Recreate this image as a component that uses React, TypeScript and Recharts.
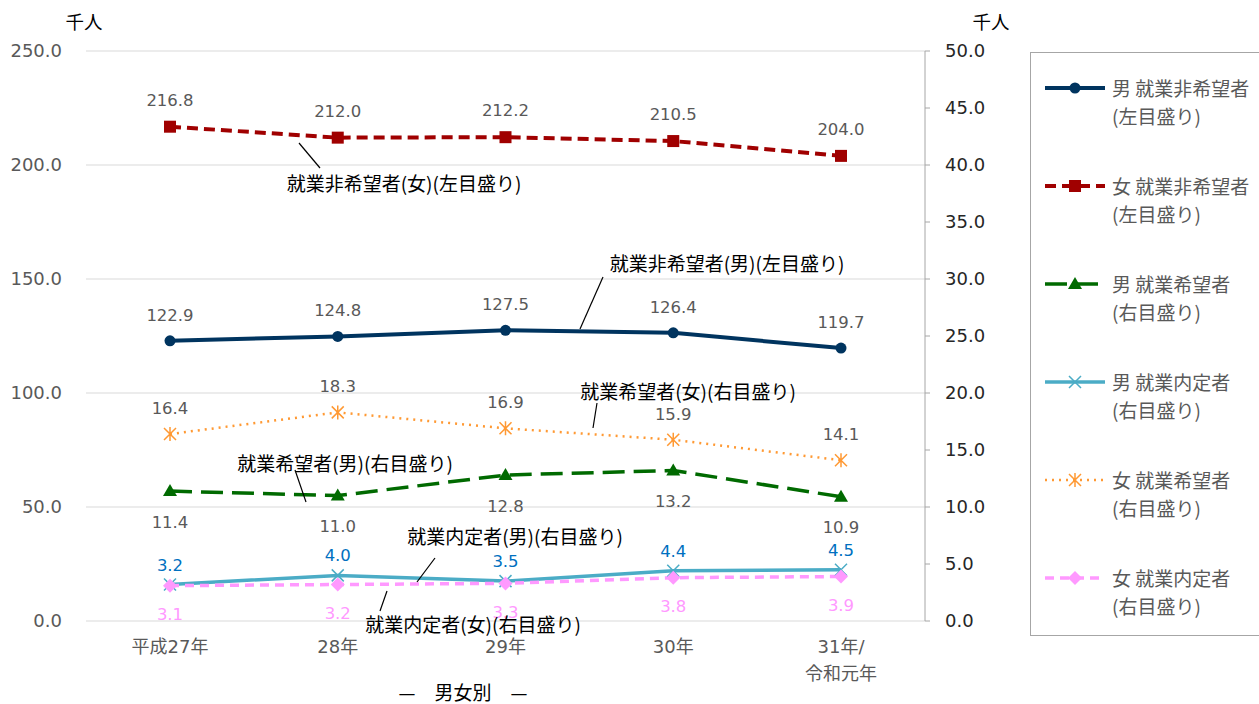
import { CartesianGrid, LabelList, Legend, Line, LineChart, XAxis, YAxis } from "recharts";

const YEARS = ["平成27年", "28年", "29年", "30年", "31年/\n令和元年"];
const MALE_NON_SEEKING = [122.9, 124.8, 127.5, 126.4, 119.7];
const FEMALE_NON_SEEKING = [216.8, 212.0, 212.2, 210.5, 204.0];
const MALE_SEEKING = [11.4, 11.0, 12.8, 13.2, 10.9];
const MALE_OFFER = [3.2, 4.0, 3.5, 4.4, 4.5];
const FEMALE_SEEKING = [16.4, 18.3, 16.9, 15.9, 14.1];
const FEMALE_OFFER = [3.1, 3.2, 3.3, 3.8, 3.9];
const LEFT_TICKS = [0, 50, 100, 150, 200, 250];
const RIGHT_TICKS = [0, 5, 10, 15, 20, 25, 30, 35, 40, 45, 50];

const FONT = "'Noto Sans CJK JP', 'Noto Sans', sans-serif";
// digits are wider in the original, DejaVu gets close; kanji fall back to Noto CJK
const NUM_FONT = "'DejaVu Sans', 'Noto Sans CJK JP', sans-serif";
const GRAY = "#595959";

type Shape = "circle" | "square" | "triangle" | "cross" | "star" | "diamond";

const SERIES: {
  key: string;
  name: string;
  sub: string;
  axis: "left" | "right";
  color: string;
  width: number;
  dash?: string;
  shape: Shape;
  labelPos: "top" | "bottom";
  labelOffset: number;
  labelColor: string;
}[] = [
  { key: "mNon", name: "男 就業非希望者", sub: "(左目盛り)", axis: "left", color: "#00345f", width: 4, shape: "circle", labelPos: "top", labelOffset: 20, labelColor: GRAY },
  { key: "fNon", name: "女 就業非希望者", sub: "(左目盛り)", axis: "left", color: "#a00000", width: 4, dash: "11 6", shape: "square", labelPos: "top", labelOffset: 21, labelColor: GRAY },
  { key: "mSeek", name: "男 就業希望者", sub: "(右目盛り)", axis: "right", color: "#006a00", width: 3.5, dash: "22 9", shape: "triangle", labelPos: "bottom", labelOffset: 25, labelColor: GRAY },
  { key: "mOffer", name: "男 就業内定者", sub: "(右目盛り)", axis: "right", color: "#4bacc6", width: 3.5, shape: "cross", labelPos: "top", labelOffset: 14, labelColor: "#0070c0" },
  { key: "fSeek", name: "女 就業希望者", sub: "(右目盛り)", axis: "right", color: "#ff9933", width: 2.5, dash: "2 5", shape: "star", labelPos: "top", labelOffset: 20, labelColor: GRAY },
  { key: "fOffer", name: "女 就業内定者", sub: "(右目盛り)", axis: "right", color: "#ff99ff", width: 3.5, dash: "9 6", shape: "diamond", labelPos: "bottom", labelOffset: 23, labelColor: "#ff99ff" },
];

const data = YEARS.map((year, i) => ({
  year,
  mNon: MALE_NON_SEEKING[i],
  fNon: FEMALE_NON_SEEKING[i],
  mSeek: MALE_SEEKING[i],
  mOffer: MALE_OFFER[i],
  fSeek: FEMALE_SEEKING[i],
  fOffer: FEMALE_OFFER[i],
}));

// callouts drawn over the plot, same as the original excel chart
const CALLOUTS = [
  { text: "就業非希望者(女)(左目盛り)", x: 404, y: 184, line: [299, 143, 320, 168] },
  { text: "就業非希望者(男)(左目盛り)", x: 727, y: 264, line: [603, 277, 580, 329] },
  { text: "就業希望者(女)(右目盛り)", x: 688, y: 392, line: [597, 403, 593, 428] },
  { text: "就業希望者(男)(右目盛り)", x: 345, y: 464, line: [295, 470, 306, 502] },
  { text: "就業内定者(男)(右目盛り)", x: 515, y: 537, line: [435, 558, 417, 582] },
  { text: "就業内定者(女)(右目盛り)", x: 473, y: 625, line: [387, 591, 380, 611] },
];

function Marker({ shape, cx, cy, color }: { shape: Shape; cx: number; cy: number; color: string }) {
  switch (shape) {
    case "circle":
      return <circle cx={cx} cy={cy} r={5.5} fill={color} />;
    case "square":
      return <rect x={cx - 6} y={cy - 6} width={12} height={12} fill={color} />;
    case "triangle":
      return <path d={`M${cx},${cy - 7} L${cx + 7},${cy + 5} L${cx - 7},${cy + 5} Z`} fill={color} />;
    case "cross":
      return (
        <path d={`M${cx - 6},${cy - 6} L${cx + 6},${cy + 6} M${cx - 6},${cy + 6} L${cx + 6},${cy - 6}`} stroke={color} strokeWidth={1.5} fill="none" />
      );
    case "star":
      return (
        <path
          d={`M${cx - 6},${cy - 6} L${cx + 6},${cy + 6} M${cx - 6},${cy + 6} L${cx + 6},${cy - 6} M${cx},${cy - 7} L${cx},${cy + 7}`}
          stroke={color}
          strokeWidth={1.5}
          fill="none"
        />
      );
    case "diamond":
      return <path d={`M${cx},${cy - 7} L${cx + 7},${cy} L${cx},${cy + 7} L${cx - 7},${cy} Z`} fill={color} />;
  }
}

function YearTick({ x, y, payload }: any) {
  const lines = String(payload.value).split("\n");
  return (
    <text x={x} y={y} textAnchor="middle" fill={GRAY} fontSize={18} fontFamily={NUM_FONT}>
      {lines.map((l, i) => (
        <tspan key={i} x={x} dy={i === 0 ? 24 : 27}>
          {l}
        </tspan>
      ))}
    </text>
  );
}

function LegendBox() {
  return (
    <div
      style={{
        width: 240,
        height: 584,
        border: "1px solid #a6a6a6",
        boxSizing: "border-box",
        fontFamily: FONT,
      }}
    >
      {SERIES.map((s, i) => (
        <div key={s.key} style={{ position: "absolute", left: 0, top: 22 + i * 98, display: "flex" }}>
          <svg width={80} height={28} style={{ display: "block" }}>
            <line x1={15} x2={75} y1={14} y2={14} stroke={s.color} strokeWidth={s.width} strokeDasharray={s.dash} />
            <Marker shape={s.shape} cx={45} cy={14} color={s.color} />
          </svg>
          <div style={{ color: GRAY, fontSize: 19, lineHeight: "28px", whiteSpace: "nowrap", marginLeft: 2 }}>
            <div>{s.name}</div>
            <div>{s.sub}</div>
          </div>
        </div>
      ))}
    </div>
  );
}

export default function App() {
  return (
    <div style={{ position: "absolute", left: 0, top: 0, width: 1259, height: 704, background: "#fff", fontFamily: FONT }}>
      <LineChart width={1259} height={704} data={data} margin={{ top: 51, right: 274, bottom: 43, left: 0 }}>
        <CartesianGrid yAxisId="left" vertical={false} stroke="#d9d9d9" strokeWidth={1.2} />
        <XAxis
          dataKey="year"
          axisLine={false}
          tickLine={false}
          height={40}
          padding={{ left: 84, right: 84 }}
          tick={<YearTick />}
          interval={0}
        />
        <YAxis
          yAxisId="left"
          domain={[0, 250]}
          ticks={LEFT_TICKS}
          width={86}
          axisLine={false}
          tickLine={false}
          tickMargin={18}
          tickFormatter={(v: number) => v.toFixed(1)}
          tick={{ fill: GRAY, fontSize: 18, fontFamily: NUM_FONT }}
        />
        <YAxis
          yAxisId="right"
          orientation="right"
          domain={[0, 50]}
          ticks={RIGHT_TICKS}
          width={60}
          axisLine={{ stroke: "#a6a6a6" }}
          tickLine={{ stroke: "#a6a6a6" }}
          tickSize={5}
          tickMargin={15}
          tickFormatter={(v: number) => v.toFixed(1)}
          tick={{ fill: "#262626", fontSize: 18, fontFamily: NUM_FONT }}
        />
        <Legend
          layout="vertical"
          align="center"
          verticalAlign="middle"
          wrapperStyle={{ left: 1030, top: 52, width: 240, height: 584 }}
          content={() => <LegendBox />}
        />
        {SERIES.map((s) => (
          <Line
            key={s.key}
            yAxisId={s.axis}
            dataKey={s.key}
            name={s.name}
            stroke={s.color}
            strokeWidth={s.width}
            strokeDasharray={s.dash}
            isAnimationActive={false}
            dot={(p: any) => <Marker key={`${s.key}-${p.index}`} shape={s.shape} cx={p.cx} cy={p.cy} color={s.color} />}
            activeDot={false}
          >
            <LabelList
              dataKey={s.key}
              position={s.labelPos}
              offset={s.labelOffset}
              fill={s.labelColor}
              fontSize={16.5}
              fontFamily={NUM_FONT}
              formatter={(v: any) => Number(v).toFixed(1)}
            />
          </Line>
        ))}
      </LineChart>
      <svg width={1259} height={704} style={{ position: "absolute", left: 0, top: 0, pointerEvents: "none" }}>
        <text x={84} y={29} textAnchor="middle" fontSize={18.5} fill="#000" fontFamily={FONT}>
          千人
        </text>
        <text x={991} y={29} textAnchor="middle" fontSize={18.5} fill="#000" fontFamily={FONT}>
          千人
        </text>
        {CALLOUTS.map((c) => (
          <g key={c.text}>
            <line x1={c.line[0]} y1={c.line[1]} x2={c.line[2]} y2={c.line[3]} stroke="#000" strokeWidth={1.2} />
            <text x={c.x} y={c.y + 7} textAnchor="middle" fontSize={19} fill="#000" fontFamily={FONT}>
              {c.text}
            </text>
          </g>
        ))}
        <text x={463} y={700} textAnchor="middle" fontSize={19} fill="#000" fontFamily={FONT} xmlSpace="preserve">
          {"—　男女別　—"}
        </text>
      </svg>
    </div>
  );
}
